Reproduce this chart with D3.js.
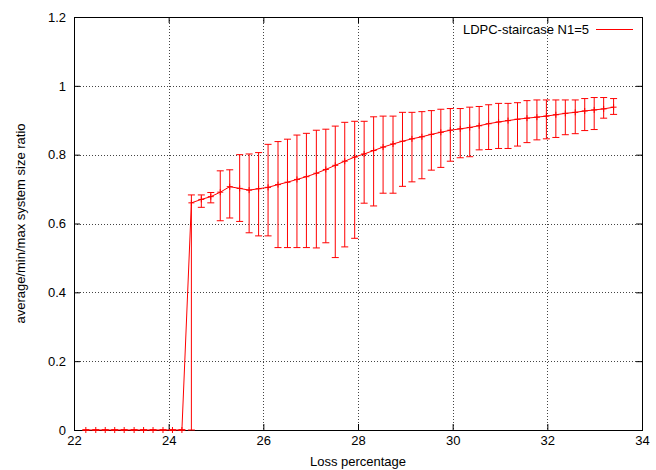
<!DOCTYPE html>
<html>
<head>
<meta charset="utf-8">
<script src="https://cdn.jsdelivr.net/npm/d3@7"></script>
<style>
  body { margin: 0; background: #fff; }
  svg { display: block; font-family: "Liberation Sans", Arial, sans-serif; }
</style>
</head>
<body>
<div id="chart"></div>
<script>
//width and height
var chart_width = 656;
var chart_height = 470;

//data
var loss = [22.25, 22.46, 22.66, 22.86, 23.06, 23.27, 23.47, 23.67, 23.88, 24.08,
            24.28, 24.48, 24.69, 24.89, 25.09, 25.29, 25.50, 25.70, 25.90, 26.10,
            26.31, 26.51, 26.71, 26.91, 27.12, 27.32, 27.52, 27.72, 27.93, 28.13,
            28.33, 28.53, 28.74, 28.94, 29.14, 29.35, 29.55, 29.75, 29.95, 30.16,
            30.36, 30.56, 30.76, 30.97, 31.17, 31.37, 31.57, 31.78, 31.98, 32.18,
            32.38, 32.59, 32.79, 32.99, 33.19, 33.40];

var avg_ratio = [0, 0, 0, 0, 0, 0, 0, 0, 0, 0,
                 0, 0.660, 0.670, 0.678, 0.691, 0.707, 0.702, 0.697, 0.701, 0.705,
                 0.713, 0.720, 0.728, 0.736, 0.746, 0.757, 0.769, 0.781, 0.793, 0.802,
                 0.812, 0.822, 0.831, 0.839, 0.846, 0.852, 0.859, 0.865, 0.871, 0.875,
                 0.879, 0.884, 0.890, 0.895, 0.899, 0.903, 0.906, 0.909, 0.912, 0.916,
                 0.920, 0.923, 0.927, 0.930, 0.933, 0.938];

var min_ratio = [0, 0, 0, 0, 0, 0, 0, 0, 0, 0,
                 0, 0, 0.647, 0.660, 0.608, 0.616, 0.606, 0.573, 0.564, 0.564,
                 0.530, 0.530, 0.530, 0.530, 0.529, 0.544, 0.501, 0.532, 0.557, 0.659,
                 0.651, 0.688, 0.688, 0.708, 0.721, 0.730, 0.755, 0.763, 0.781, 0.791,
                 0.794, 0.814, 0.815, 0.818, 0.818, 0.825, 0.835, 0.843, 0.846, 0.850,
                 0.858, 0.861, 0.870, 0.873, 0.906, 0.917];

var max_ratio = [0, 0, 0, 0, 0, 0, 0, 0, 0, 0,
                 0, 0.683, 0.683, 0.690, 0.753, 0.756, 0.800, 0.802, 0.806, 0.830,
                 0.838, 0.845, 0.857, 0.862, 0.871, 0.874, 0.883, 0.894, 0.897, 0.897,
                 0.910, 0.912, 0.912, 0.923, 0.923, 0.925, 0.928, 0.932, 0.934, 0.934,
                 0.938, 0.940, 0.945, 0.949, 0.949, 0.951, 0.957, 0.959, 0.959, 0.959,
                 0.959, 0.959, 0.963, 0.966, 0.966, 0.963];

var x_ticks = [22, 24, 26, 28, 30, 32, 34];
var y_ticks = [0, 0.2, 0.4, 0.6, 0.8, 1, 1.2];

var series_name = "LDPC-staircase N1=5";
var x_title = "Loss percentage";
var y_title = "average/min/max system size ratio";

//plot box (names chosen so they don't clash with window.top etc.)
var box_left = 74, box_right = 642, box_top = 17, box_bottom = 430;
var font_size = "13px";

var x = d3.scaleLinear().domain([22, 34]).range([box_left, box_right]);
var y = d3.scaleLinear().domain([0, 1.2]).range([box_bottom, box_top]);

var svg = d3.select("#chart")
            .append("svg")
            .attr("width", chart_width)
            .attr("height", chart_height);

var points = loss.map(function(d, i){
    return {x: d, avg: avg_ratio[i], min: min_ratio[i], max: max_ratio[i]};
});

//grid (dotted)
var grid = svg.append("g").attr("class", "grid");

grid.selectAll(".gx")
    .data(x_ticks.filter(function(d){ return d > 22 && d < 34; }))
    .enter()
    .append("line")
    .attr("x1", function(d){ return Math.round(x(d)) + 0.5; })
    .attr("x2", function(d){ return Math.round(x(d)) + 0.5; })
    .attr("y1", box_top)
    .attr("y2", box_bottom)
    .attr("stroke", "#444")
    .attr("stroke-dasharray", "1,2");

grid.selectAll(".gy")
    .data(y_ticks.filter(function(d){ return d > 0 && d < 1.2; }))
    .enter()
    .append("line")
    .attr("x1", box_left)
    .attr("x2", box_right)
    .attr("y1", function(d){ return Math.round(y(d)) + 0.5; })
    .attr("y2", function(d){ return Math.round(y(d)) + 0.5; })
    .attr("stroke", "#444")
    .attr("stroke-dasharray", "1,2");

//axes, ticks inward on all four sides
function style_axis(g){
    g.select(".domain").remove();
    g.selectAll(".tick line").attr("stroke", "#000");
    g.selectAll(".tick text")
     .attr("fill", "#000")
     .style("font-size", font_size)
     .style("font-family", "Liberation Sans, Arial, sans-serif");
}

svg.append("g")
   .attr("transform", "translate(0," + box_bottom + ")")
   .call(d3.axisBottom(x).tickValues(x_ticks).tickSizeInner(-6).tickSizeOuter(0)
           .tickPadding(6).tickFormat(d3.format("d")))
   .call(style_axis);

svg.append("g")
   .attr("transform", "translate(0," + box_top + ")")
   .call(d3.axisTop(x).tickValues(x_ticks).tickSizeInner(-6).tickSizeOuter(0).tickFormat(""))
   .call(style_axis);

svg.append("g")
   .attr("transform", "translate(" + box_left + ",0)")
   .call(d3.axisLeft(y).tickValues(y_ticks).tickSizeInner(-6).tickSizeOuter(0)
           .tickPadding(8).tickFormat(function(d){ return String(d); }))
   .call(style_axis);

svg.append("g")
   .attr("transform", "translate(" + box_right + ",0)")
   .call(d3.axisRight(y).tickValues(y_ticks).tickSizeInner(-6).tickSizeOuter(0).tickFormat(""))
   .call(style_axis);

//border
svg.append("rect")
   .attr("x", box_left + 0.5)
   .attr("y", box_top + 0.5)
   .attr("width", box_right - box_left)
   .attr("height", box_bottom - box_top)
   .attr("fill", "none")
   .attr("stroke", "#000")
   .attr("stroke-width", 1);

//axis titles
svg.append("text")
   .attr("x", (box_left + box_right) / 2)
   .attr("y", 466)
   .attr("text-anchor", "middle")
   .style("font-size", font_size)
   .text(x_title);

svg.append("text")
   .attr("transform", "translate(25," + ((box_top + box_bottom) / 2) + ") rotate(-90)")
   .attr("text-anchor", "middle")
   .style("font-size", font_size)
   .text(y_title);

//data
var plot = svg.append("g").attr("class", "plot");
var red = "#ff0000";
var cap = 3.5;
var mark = 3;

plot.append("path")
    .datum(points)
    .attr("fill", "none")
    .attr("stroke", red)
    .attr("stroke-width", 1)
    .attr("d", d3.line()
        .x(function(d){ return x(d.x); })
        .y(function(d){ return y(d.avg); }));

var bars = plot.selectAll(".bar")
    .data(points)
    .enter()
    .append("g")
    .attr("class", "bar");

bars.append("line")
    .attr("x1", function(d){ return x(d.x); })
    .attr("x2", function(d){ return x(d.x); })
    .attr("y1", function(d){ return y(d.min); })
    .attr("y2", function(d){ return y(d.max); })
    .attr("stroke", red);

bars.append("line")
    .attr("x1", function(d){ return x(d.x) - cap; })
    .attr("x2", function(d){ return x(d.x) + cap; })
    .attr("y1", function(d){ return y(d.min); })
    .attr("y2", function(d){ return y(d.min); })
    .attr("stroke", red);

bars.append("line")
    .attr("x1", function(d){ return x(d.x) - cap; })
    .attr("x2", function(d){ return x(d.x) + cap; })
    .attr("y1", function(d){ return y(d.max); })
    .attr("y2", function(d){ return y(d.max); })
    .attr("stroke", red);

//"+" point markers
bars.append("path")
    .attr("d", function(d){
        var cx = x(d.x), cy = y(d.avg);
        return "M" + (cx - mark) + "," + cy + "H" + (cx + mark) +
               "M" + cx + "," + (cy - mark) + "V" + (cy + mark);
    })
    .attr("stroke", red)
    .attr("fill", "none");

//key
svg.append("text")
   .attr("x", 589)
   .attr("y", 34)
   .attr("text-anchor", "end")
   .style("font-size", font_size)
   .text(series_name);

svg.append("line")
   .attr("x1", 596)
   .attr("x2", 633)
   .attr("y1", 29.5)
   .attr("y2", 29.5)
   .attr("stroke", red);
</script>
</body>
</html>
